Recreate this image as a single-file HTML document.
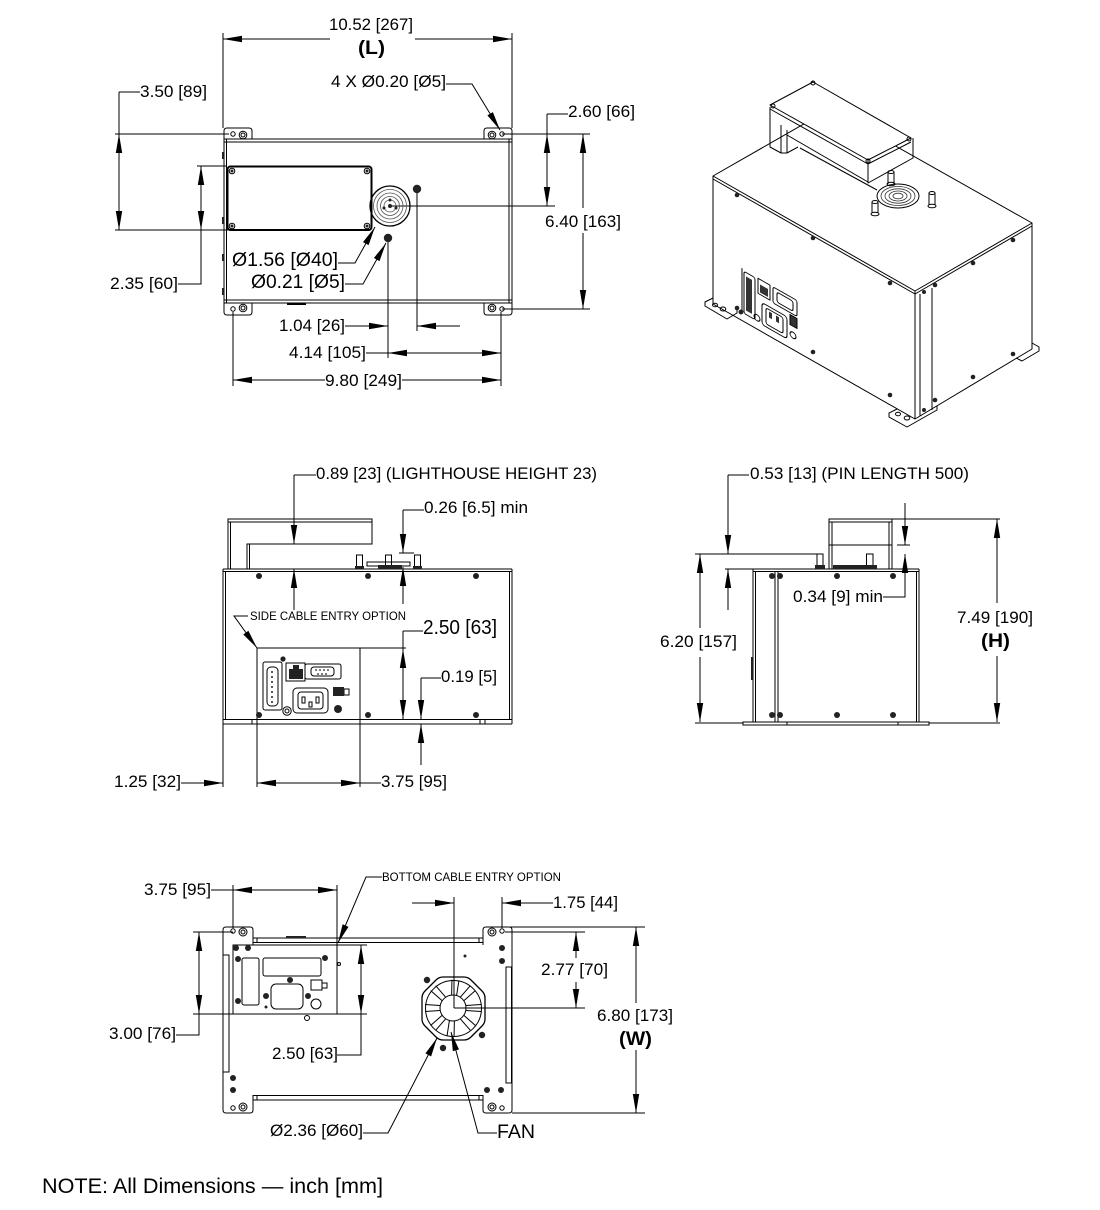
<!DOCTYPE html>
<html><head><meta charset="utf-8"><style>
html,body{margin:0;padding:0;background:#fff;}
svg{display:block;}
text{font-family:"Liberation Sans",Arial,sans-serif;fill:#000;}
</style></head><body>
<svg width="1100" height="1210" viewBox="0 0 1100 1210" xmlns="http://www.w3.org/2000/svg">
<defs><path id="a" d="M0,0 L19,-3.2 L19,3.2 Z" fill="#000" stroke="none"/></defs>
<rect width="1100" height="1210" fill="#fff"/>

<!-- ================= TOP VIEW ================= -->
<g fill="none" stroke="#000" stroke-width="1">
<path d="M223,33V128 M512,33V128 M223,39H330 M415,39H512"/>
<path d="M446,84H472L500,130"/>
<path d="M119,92H140 M119,92V230 M115,134H229 M115,230H228"/>
<path d="M197,166H227 M201,166V284H178"/>
<path d="M547,114H568 M547,114V206 M390,206H555 M502,134H590 M502,309H590"/>
<path d="M583,134V208 M583,233V309"/>
<rect x="224" y="139" width="288" height="164"/>
<path d="M224,142H512 M224,300H512 M509,139V303 M226.5,139V303"/>
<path d="M224,139V131Q224,128 227,128H249Q252,128 252,131V139"/>
<path d="M484,139V131Q484,128 487,128H509Q512,128 512,131V139"/>
<path d="M224,303V312Q224,315 227,315H249Q252,315 252,312V303"/>
<path d="M484,303V312Q484,315 487,315H509Q512,315 512,312V303"/>
<circle cx="233" cy="134" r="2.2"/><circle cx="502" cy="134" r="2.2"/><circle cx="233" cy="309" r="2.2"/><circle cx="502" cy="309" r="2.2"/>
<circle cx="243" cy="135" r="3.8"/><circle cx="243" cy="135" r="2"/>
<circle cx="492" cy="135" r="3.8"/><circle cx="492" cy="135" r="2"/>
<circle cx="243" cy="308" r="3.8"/><circle cx="243" cy="308" r="2"/>
<circle cx="492" cy="308" r="3.8"/><circle cx="492" cy="308" r="2"/>
<rect x="227.5" y="166.5" width="144" height="63.5" rx="3" stroke-width="2"/>
<circle cx="232" cy="171" r="2.8"/><circle cx="367" cy="171" r="2.8"/><circle cx="232" cy="226" r="2.8"/><circle cx="367" cy="226" r="2.8"/>
<circle cx="390" cy="206" r="20" stroke-width="1.3"/>
<g stroke="#555" stroke-width="0.8"><circle cx="390" cy="206" r="16.5"/><circle cx="390" cy="206" r="13"/><circle cx="390" cy="206" r="9.5"/><circle cx="390" cy="206" r="6"/></g>
<path d="M388,242V358 M417,193V331"/>
<path d="M345,326H388 M417,326H460"/>
<path d="M366,353H501"/>
<path d="M233,312V386 M501,312V386 M233,380H325 M402,380H501"/>
<path d="M338,263H355L375,227"/>
<path d="M345,284H363L386,243"/>
<path d="M287,304H306" stroke-width="2"/>
</g>
<g fill="#222">
<circle cx="417" cy="189" r="4.2"/><circle cx="388" cy="238" r="4.2"/>
<circle cx="232" cy="171" r="1.5"/><circle cx="367" cy="171" r="1.5"/><circle cx="232" cy="226" r="1.5"/><circle cx="367" cy="226" r="1.5"/>
<circle cx="390" cy="206" r="2"/><circle cx="384" cy="208" r="1.5"/><circle cx="396" cy="208" r="1.5"/><circle cx="390" cy="200" r="1.5"/>
<rect x="222" y="152" width="2" height="7"/><rect x="222" y="217" width="2" height="7"/><rect x="222" y="254" width="2" height="7"/><rect x="222" y="288" width="2" height="7"/>
</g>
<use href="#a" transform="translate(223,39)"/>
<use href="#a" transform="translate(512,39) rotate(180)"/>
<use href="#a" transform="translate(500,130) rotate(238.7)"/>
<use href="#a" transform="translate(119,134) rotate(90)"/>
<use href="#a" transform="translate(119,230) rotate(-90)"/>
<use href="#a" transform="translate(201,166) rotate(90)"/>
<use href="#a" transform="translate(201,230) rotate(-90)"/>
<use href="#a" transform="translate(547,134) rotate(90)"/>
<use href="#a" transform="translate(547,206) rotate(-90)"/>
<use href="#a" transform="translate(583,134) rotate(90)"/>
<use href="#a" transform="translate(583,309) rotate(-90)"/>
<use href="#a" transform="translate(388,326) rotate(180)"/>
<use href="#a" transform="translate(417,326)"/>
<use href="#a" transform="translate(388,353)"/>
<use href="#a" transform="translate(501,353) rotate(180)"/>
<use href="#a" transform="translate(233,380)"/>
<use href="#a" transform="translate(501,380) rotate(180)"/>
<use href="#a" transform="translate(375,227) rotate(119)"/>
<use href="#a" transform="translate(386,243) rotate(119.3)"/>

<g font-size="16.5">
<text x="329" y="30" textLength="84" lengthAdjust="spacingAndGlyphs">10.52 [267]</text>
<text x="331" y="87" textLength="115" lengthAdjust="spacingAndGlyphs">4 X Ø0.20 [Ø5]</text>
<text x="140" y="97" textLength="67" lengthAdjust="spacingAndGlyphs">3.50 [89]</text>
<text x="568" y="117" textLength="67" lengthAdjust="spacingAndGlyphs">2.60 [66]</text>
<text x="545" y="227" textLength="76" lengthAdjust="spacingAndGlyphs">6.40 [163]</text>
<text x="110" y="289" textLength="68" lengthAdjust="spacingAndGlyphs">2.35 [60]</text>
<text x="279" y="331" textLength="66" lengthAdjust="spacingAndGlyphs">1.04 [26]</text>
<text x="289" y="358" textLength="77" lengthAdjust="spacingAndGlyphs">4.14 [105]</text>
<text x="325" y="386" textLength="77" lengthAdjust="spacingAndGlyphs">9.80 [249]</text>
</g>
<text x="358" y="54" font-size="19" font-weight="bold" textLength="27" lengthAdjust="spacingAndGlyphs">(L)</text>
<text x="232" y="266" font-size="19" textLength="106" lengthAdjust="spacingAndGlyphs">Ø1.56 [Ø40]</text>
<text x="251" y="288" font-size="19" textLength="94" lengthAdjust="spacingAndGlyphs">Ø0.21 [Ø5]</text>

<!-- ================= ISOMETRIC VIEW ================= -->
<g fill="none" stroke="#000" stroke-width="1" stroke-linejoin="round">
<path d="M713,176 L830,109 L1032,223 L915,291 Z" fill="#fff"/>
<path d="M713,179 L915,294 L1032,226"/>
<path d="M713,176 V304 L915,419 V291"/>
<path d="M1032,223 V349 L915,419"/>
<path d="M920,294 V416 M932,288 V410"/>
<path d="M713,298 L705,302 L705,306 L727,319 L737,313 L737,309"/>
<ellipse cx="715" cy="305" rx="2.5" ry="1.8"/><ellipse cx="723" cy="309" rx="2.8" ry="2"/>
<path d="M897,409 L889,413 L889,417 L907,427 L937,410 L937,406"/>
<ellipse cx="898" cy="414" rx="2.5" ry="1.8"/><ellipse cx="907" cy="418" rx="2.8" ry="2"/>
<path d="M1032,343 L1039,347 L1039,351 L1022,361 L1016,358"/>
<!-- lighthouse -->
<path d="M800,148 L877,190"/>
<path d="M770,107 V147 L781,153 H787 L798,147"/>
<path d="M781,153 V125 M787,153 V130"/>
<path d="M770,105 L813,82 L911,138 L868,160 Z" fill="#fff"/>
<path d="M770,109 L868,164 L911,142"/>
<path d="M868,160 V183 L913,158 V138"/>
<path d="M787,135 L868,182"/>
<circle cx="773" cy="106" r="2"/><circle cx="813" cy="83" r="2"/><circle cx="909" cy="139" r="2"/><circle cx="868" cy="161" r="2"/>
<ellipse cx="898" cy="196" rx="21" ry="12" fill="#fff"/>
<g stroke="#333" stroke-width="0.8"><ellipse cx="898" cy="196" rx="17" ry="9.5"/><ellipse cx="898" cy="196" rx="13" ry="7.2"/><ellipse cx="898" cy="196" rx="9" ry="5"/><ellipse cx="898" cy="196" rx="5" ry="2.8"/></g>
<path d="M888,172 V184 M894,172 V184" /><ellipse cx="891" cy="172" rx="3" ry="1.5"/><ellipse cx="891" cy="184" rx="4" ry="1.8"/>
<path d="M872,202 V213 M878,202 V213"/><ellipse cx="875" cy="202" rx="3" ry="1.5"/><ellipse cx="875" cy="214" rx="4" ry="1.8"/>
<path d="M929,193 V205 M935,193 V205"/><ellipse cx="932" cy="193" rx="3" ry="1.5"/><ellipse cx="932" cy="206" rx="4" ry="1.8"/>
<g transform="matrix(1,0.569,0,1,0,0)">
<path d="M742,-154 V-109"/>
<rect x="744" y="-152" width="11" height="42" rx="2"/>
<rect x="758" y="-153" width="12" height="15"/>
<rect x="773" y="-153" width="24" height="16" rx="2"/>
<rect x="777" y="-150" width="16" height="10" rx="2"/>
<rect x="762" y="-131" width="25" height="22" rx="3"/>
<rect x="766" y="-128" width="17" height="16" rx="2"/>
<rect x="790" y="-135" width="7" height="10" fill="#333"/>
<circle cx="757" cy="-113" r="3"/>
<circle cx="793" cy="-116" r="3"/>
</g>
</g>
<g fill="#222">
<circle cx="737" cy="195" r="2.3"/><circle cx="813" cy="238" r="2.3"/><circle cx="890" cy="283" r="2.3"/>
<circle cx="737" cy="308" r="2.3"/><circle cx="813" cy="352" r="2.3"/><circle cx="890" cy="395" r="2.3"/>
<circle cx="1013" cy="240" r="2.3"/><circle cx="973" cy="263" r="2.3"/><circle cx="935" cy="285" r="2.3"/>
<circle cx="1013" cy="354" r="2.3"/><circle cx="973" cy="377" r="2.3"/><circle cx="935" cy="400" r="2.3"/>
<circle cx="924" cy="292" r="2"/><circle cx="924" cy="410" r="2"/>
<circle cx="741" cy="312" r="2.5"/>
</g>
<g transform="matrix(1,0.569,0,1,0,0)" fill="#333">
<rect x="760" y="-148" width="8" height="8"/>
<rect x="746" y="-148" width="6" height="34"/>
<rect x="769" y="-126" width="3" height="6"/><rect x="776" y="-126" width="3" height="6"/>
</g>

<!-- ================= SIDE VIEW ================= -->
<g fill="none" stroke="#000" stroke-width="1">
<path d="M223,569H512 M223,571.5H512 M223,569V724 M512,569V724 M225.5,571V719 M509.5,571V719 M223,719.5H512 M223,724H512"/>
<path d="M252,719V724 M257,719V724 M480,719V724 M485,719V724"/>
<path d="M228,569V519H372V544H247V569 M228,522H372 M230.5,522V569 M249.5,544V569"/>
<rect x="356.5" y="555" width="6" height="14"/><rect x="385.5" y="555" width="6" height="14"/><rect x="414.5" y="555" width="6" height="14"/>
<rect x="367" y="562" width="43" height="4"/>
<path d="M257,648H406 M360,648V787 M257,648V787"/>
<rect x="263" y="662" width="19" height="48" rx="2"/>
<rect x="267" y="667" width="11" height="39" rx="4"/>
<rect x="286" y="663" width="19" height="18"/>
<rect x="305" y="664" width="36" height="15" rx="2"/>
<rect x="311" y="667" width="23" height="9" rx="3"/>
<rect x="293" y="688" width="35" height="25" rx="4"/>
<rect x="298" y="692" width="25" height="17" rx="3"/>
<rect x="302" y="697" width="3" height="6"/><rect x="316" y="697" width="3" height="6"/><rect x="309" y="702" width="3" height="5"/>
<rect x="344" y="689" width="5" height="6"/>
<circle cx="287" cy="711" r="4.2"/><circle cx="287" cy="711" r="2"/>
<path d="M294,475H316 M294,475V544"/>
<path d="M294,569V610"/>
<path d="M403,510H424 M403,510V553 M399,553H414"/>
<path d="M403,567V604"/>
<path d="M248,616H234L257,648"/>
<path d="M403,631H423 M403,631V719"/>
<path d="M360,719.5H426"/>
<path d="M421,678H441 M421,678V719"/>
<path d="M421,724V765"/>
<path d="M181,783H223 M223,724V787"/>
<path d="M257,783H381"/>
</g>
<g fill="#222">
<circle cx="259" cy="576" r="3"/><circle cx="368" cy="576" r="3"/><circle cx="476" cy="576" r="3"/>
<circle cx="259" cy="715" r="3"/><circle cx="368" cy="715" r="3"/><circle cx="476" cy="715" r="3"/>
<circle cx="283" cy="659" r="2.6"/>
<circle cx="338" cy="709" r="4"/>
<rect x="378" y="565" width="24" height="4"/>
<rect x="289" y="669" width="14" height="10"/><rect x="293" y="665" width="6" height="4"/>
<rect x="333" y="687" width="11" height="9"/>
<rect x="355" y="566" width="9" height="3"/><rect x="384" y="566" width="9" height="3"/><rect x="413" y="566" width="9" height="3"/>
<circle cx="272" cy="672" r="1"/><circle cx="272" cy="677" r="1"/><circle cx="272" cy="682" r="1"/><circle cx="272" cy="687" r="1"/><circle cx="272" cy="692" r="1"/><circle cx="272" cy="697" r="1"/><circle cx="272" cy="702" r="1"/>
<circle cx="316" cy="670" r="0.9"/><circle cx="320" cy="670" r="0.9"/><circle cx="324" cy="670" r="0.9"/><circle cx="328" cy="670" r="0.9"/><circle cx="318" cy="674" r="0.9"/><circle cx="322" cy="674" r="0.9"/><circle cx="326" cy="674" r="0.9"/>
</g>
<use href="#a" transform="translate(294,544) rotate(-90)"/>
<use href="#a" transform="translate(294,569) rotate(90)"/>
<use href="#a" transform="translate(403,553) rotate(-90)"/>
<use href="#a" transform="translate(403,567) rotate(90)"/>
<use href="#a" transform="translate(257,648) rotate(234)"/>
<use href="#a" transform="translate(403,649) rotate(90)"/>
<use href="#a" transform="translate(403,719) rotate(-90)"/>
<use href="#a" transform="translate(421,719) rotate(-90)"/>
<use href="#a" transform="translate(421,724) rotate(90)"/>
<use href="#a" transform="translate(223,783) rotate(180)"/>
<use href="#a" transform="translate(257,783)"/>
<use href="#a" transform="translate(360,783) rotate(180)"/>
<g font-size="16.5">
<text x="316" y="479" textLength="281" lengthAdjust="spacingAndGlyphs">0.89 [23] (LIGHTHOUSE HEIGHT 23)</text>
<text x="424" y="513" textLength="104" lengthAdjust="spacingAndGlyphs">0.26 [6.5] min</text>
<text x="441" y="682" textLength="56" lengthAdjust="spacingAndGlyphs">0.19 [5]</text>
<text x="114" y="787" textLength="67" lengthAdjust="spacingAndGlyphs">1.25 [32]</text>
<text x="381" y="787" textLength="66" lengthAdjust="spacingAndGlyphs">3.75 [95]</text>
</g>
<text x="250" y="620" font-size="11.5" textLength="156" lengthAdjust="spacingAndGlyphs">SIDE CABLE ENTRY OPTION</text>
<text x="423" y="634" font-size="20" textLength="74" lengthAdjust="spacingAndGlyphs">2.50 [63]</text>

<!-- ================= FRONT VIEW ================= -->
<g fill="none" stroke="#000" stroke-width="1">
<path d="M753,569V722 M919,569V722 M755.5,572V722 M916.5,572V722 M753,569H919 M753,571.5H919"/>
<rect x="743" y="722" width="186" height="3"/>
<path d="M787,722V725 M898,722V725"/>
<path d="M775,572V722 M778,572V722"/>
<path d="M829,569V519H892V569 M829,522H892 M832,522V569 M889,522V569 M829,545H892"/>
<rect x="817" y="554" width="6" height="12"/><rect x="866.5" y="554" width="6.5" height="12"/>
<path d="M728,475H749 M728,475V554 M695,554H818"/>
<path d="M725,569H753 M728,569V610"/>
<path d="M700,554V628 M700,657V722 M695,723H743 M929,723H1000"/>
<path d="M892,519H1000 M997,519V603 M997,656V722"/>
<path d="M905,503V545 M897,545H910"/>
<path d="M905,554V597H883"/>
</g>
<g fill="#222">
<circle cx="772" cy="576" r="3"/><circle cx="780" cy="576" r="3"/><circle cx="837" cy="576" r="3"/><circle cx="893" cy="576" r="3"/>
<circle cx="772" cy="715" r="3"/><circle cx="780" cy="715" r="3"/><circle cx="837" cy="715" r="3"/><circle cx="893" cy="715" r="3"/>
<rect x="833" y="565" width="44" height="4"/>
<rect x="815" y="565" width="10" height="4"/><rect x="865" y="565" width="10" height="4"/>
<rect x="751" y="657" width="2" height="23"/>
</g>
<use href="#a" transform="translate(728,554) rotate(-90)"/>
<use href="#a" transform="translate(728,569) rotate(90)"/>
<use href="#a" transform="translate(700,554) rotate(90)"/>
<use href="#a" transform="translate(700,722) rotate(-90)"/>
<use href="#a" transform="translate(997,519) rotate(90)"/>
<use href="#a" transform="translate(997,722) rotate(-90)"/>
<use href="#a" transform="translate(905,545) rotate(-90)"/>
<use href="#a" transform="translate(905,554) rotate(90)"/>
<g font-size="16.5">
<text x="750" y="479" textLength="219" lengthAdjust="spacingAndGlyphs">0.53 [13] (PIN LENGTH 500)</text>
<text x="793" y="602" textLength="90" lengthAdjust="spacingAndGlyphs">0.34 [9] min</text>
<text x="660" y="647" textLength="77" lengthAdjust="spacingAndGlyphs">6.20 [157]</text>
<text x="957" y="623" textLength="76" lengthAdjust="spacingAndGlyphs">7.49 [190]</text>
</g>
<text x="981" y="647" font-size="19" font-weight="bold" textLength="29" lengthAdjust="spacingAndGlyphs">(H)</text>

<!-- ================= BOTTOM VIEW ================= -->
<g fill="none" stroke="#000" stroke-width="1">
<path d="M253,945V930Q253,927 250,927H226Q223,927 223,930V1110Q223,1113 226,1113H250Q253,1113 253,1110V1095"/>
<path d="M483,945V930Q483,927 486,927H509Q512,927 512,930V1110Q512,1113 509,1113H486Q483,1113 483,1110V1095"/>
<rect x="253" y="938" width="230" height="4.5"/>
<rect x="253" y="1095.5" width="230" height="4.5"/>
<path d="M257,938V942.5 M479,938V942.5 M257,1095.5V1100 M479,1095.5V1100"/>
<rect x="223" y="955" width="6" height="117"/>
<rect x="506" y="967" width="5.5" height="116"/>
<rect x="233" y="945" width="104" height="69"/>
<rect x="242" y="958" width="17" height="47" rx="2"/>
<rect x="263" y="958" width="58" height="18" rx="2"/>
<rect x="271" y="984" width="32" height="25" rx="5"/>
<rect x="311" y="980" width="11" height="10"/><rect x="322" y="983" width="5" height="5"/>
<circle cx="316" cy="1004" r="5"/>
<circle cx="339" cy="964" r="1.5"/>
<circle cx="307" cy="1018" r="2.5"/>
<circle cx="233" cy="931" r="2.2"/><circle cx="243" cy="932" r="4"/><circle cx="243" cy="932" r="2"/>
<circle cx="502" cy="931" r="2.2"/><circle cx="492" cy="932" r="4"/><circle cx="492" cy="932" r="2"/>
<circle cx="233" cy="1108" r="2.2"/><circle cx="243" cy="1107" r="4"/><circle cx="243" cy="1107" r="2"/>
<circle cx="502" cy="1108" r="2.2"/><circle cx="492" cy="1107" r="4"/><circle cx="492" cy="1107" r="2"/>
<!-- fan -->
<path d="M443,977 L464,977 Q468,977 471,980 L482,991 Q485,994 485,998 L485,1019 Q485,1023 482,1026 L471,1037 Q468,1040 464,1040 L443,1040 Q439,1040 436,1037 L425,1026 Q422,1023 422,1019 L422,998 Q422,994 425,991 L436,980 Q439,977 443,977 Z" stroke-width="1.3"/>
<circle cx="453.5" cy="1008.5" r="28"/>
<circle cx="453" cy="1008" r="13"/>
<g transform="translate(453,1008)">
<path d="M13,-2.5 L28,-3.5 M13,2.5 L28,3.5" transform="rotate(0)"/>
<path d="M13,-2.5 L28,-3.5 M13,2.5 L28,3.5" transform="rotate(45)"/>
<path d="M13,-2.5 L28,-3.5 M13,2.5 L28,3.5" transform="rotate(95)"/>
<path d="M13,-2.5 L28,-3.5 M13,2.5 L28,3.5" transform="rotate(135)"/>
<path d="M13,-2.5 L28,-3.5 M13,2.5 L28,3.5" transform="rotate(180)"/>
<path d="M13,-2.5 L28,-3.5 M13,2.5 L28,3.5" transform="rotate(225)"/>
<path d="M13,-2.5 L28,-3.5 M13,2.5 L28,3.5" transform="rotate(275)"/>
<path d="M13,-2.5 L28,-3.5 M13,2.5 L28,3.5" transform="rotate(315)"/>
</g>
<!-- dims -->
<path d="M211,890H337 M233,885V928 M337,885V945"/>
<path d="M382,877H366L338,943"/>
<path d="M412,903H454 M502,903H553 M454,897V1008 M502,897V928"/>
<path d="M505,932H585 M454,1008H585 M576,932V958 M576,982V1008"/>
<path d="M510,927H645 M512,1113H645 M636,927V1003 M636,1050V1113"/>
<path d="M193,932H233 M193,1014H233 M199,932V1035H176"/>
<path d="M337,945H367 M337,1014H367 M361,945V1055H337"/>
<path d="M363,1133H388L437,1038"/>
<path d="M497,1133H478L451,1032"/>
</g>
<g fill="#222">
<circle cx="236" cy="948" r="3"/><circle cx="248" cy="948" r="3"/><circle cx="238" cy="959" r="3"/><circle cx="325" cy="958" r="3"/>
<circle cx="290" cy="980" r="3"/><circle cx="266" cy="996" r="3"/><circle cx="308" cy="996" r="3"/><circle cx="238" cy="1001" r="3"/><circle cx="266" cy="1007" r="1.5"/>
<circle cx="233" cy="1078" r="3"/><circle cx="233" cy="1090" r="3"/>
<circle cx="502" cy="948" r="3"/><circle cx="502" cy="961" r="3"/><circle cx="487" cy="1090" r="3"/><circle cx="501" cy="1090" r="3"/>
<circle cx="427" cy="980" r="3.2"/><circle cx="482" cy="1035" r="3.2"/><circle cx="443" cy="1048" r="3.2"/><circle cx="465" cy="956" r="1.5"/>
<rect x="286" y="936" width="20" height="2"/>
</g>
<use href="#a" transform="translate(233,890)"/>
<use href="#a" transform="translate(337,890) rotate(180)"/>
<use href="#a" transform="translate(338,943) rotate(-66.6)"/>
<use href="#a" transform="translate(454,903) rotate(180)"/>
<use href="#a" transform="translate(502,903)"/>
<use href="#a" transform="translate(576,932) rotate(90)"/>
<use href="#a" transform="translate(576,1008) rotate(-90)"/>
<use href="#a" transform="translate(636,927) rotate(90)"/>
<use href="#a" transform="translate(636,1113) rotate(-90)"/>
<use href="#a" transform="translate(199,932) rotate(90)"/>
<use href="#a" transform="translate(199,1014) rotate(-90)"/>
<use href="#a" transform="translate(361,945) rotate(90)"/>
<use href="#a" transform="translate(361,1014) rotate(-90)"/>
<use href="#a" transform="translate(437,1038) rotate(117.3)"/>
<use href="#a" transform="translate(451,1032) rotate(75)"/>
<g font-size="16.5">
<text x="144" y="895" textLength="67" lengthAdjust="spacingAndGlyphs">3.75 [95]</text>
<text x="553" y="908" textLength="65" lengthAdjust="spacingAndGlyphs">1.75 [44]</text>
<text x="541" y="975" textLength="67" lengthAdjust="spacingAndGlyphs">2.77 [70]</text>
<text x="597" y="1021" textLength="76" lengthAdjust="spacingAndGlyphs">6.80 [173]</text>
<text x="109" y="1039" textLength="67" lengthAdjust="spacingAndGlyphs">3.00 [76]</text>
<text x="272" y="1059" textLength="66" lengthAdjust="spacingAndGlyphs">2.50 [63]</text>
<text x="270" y="1136" textLength="93" lengthAdjust="spacingAndGlyphs">Ø2.36 [Ø60]</text>
</g>
<text x="382" y="881" font-size="11.5" textLength="179" lengthAdjust="spacingAndGlyphs">BOTTOM CABLE ENTRY OPTION</text>
<text x="619" y="1045" font-size="19" font-weight="bold" textLength="33" lengthAdjust="spacingAndGlyphs">(W)</text>
<text x="497" y="1138" font-size="19" textLength="38" lengthAdjust="spacingAndGlyphs">FAN</text>

<!-- NOTE -->
<text x="42" y="1193" font-size="21" textLength="341" lengthAdjust="spacingAndGlyphs">NOTE: All Dimensions — inch [mm]</text>
</svg>
</body></html>
